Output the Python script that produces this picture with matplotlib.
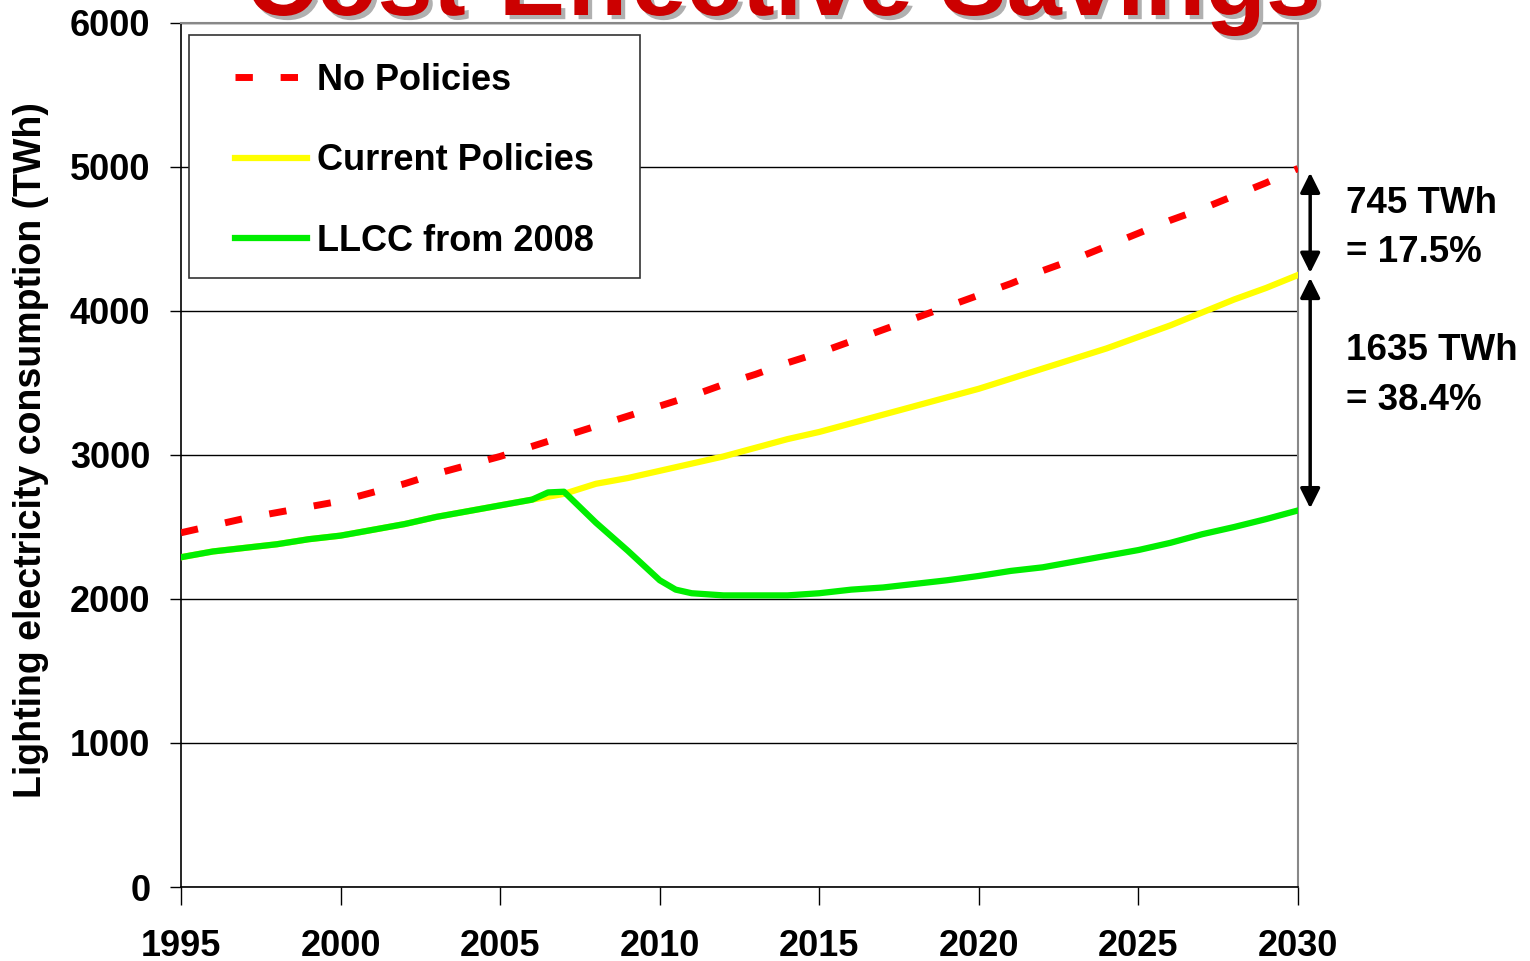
import matplotlib.pyplot as plt
import matplotlib.patheffects as pe
from matplotlib.patches import Rectangle

# Datos (TWh)
years = list(range(1995, 2031))
no_policies = [2460, 2510, 2560, 2600, 2640, 2680, 2740, 2800, 2870, 2930,
               2990, 3060, 3130, 3200, 3270, 3340, 3410, 3490, 3560, 3640,
               3710, 3790, 3870, 3950, 4030, 4110, 4190, 4280, 4360, 4450,
               4540, 4630, 4710, 4800, 4890, 4990]
current = [2290, 2330, 2355, 2380, 2415, 2440, 2480, 2520, 2570, 2610,
           2650, 2690, 2730, 2800, 2840, 2890, 2940, 2990, 3050, 3110,
           3160, 3220, 3280, 3340, 3400, 3460, 3530, 3600, 3670, 3740,
           3820, 3900, 3990, 4080, 4160, 4250]
llcc_years = [1995, 1996, 1997, 1998, 1999, 2000, 2001, 2002, 2003, 2004,
              2005, 2006, 2006.5, 2007, 2008, 2009, 2010, 2010.5, 2011, 2012,
              2013, 2014, 2015, 2016, 2017, 2018, 2019, 2020, 2021, 2022,
              2023, 2024, 2025, 2026, 2027, 2028, 2029, 2030]
llcc = [2290, 2330, 2355, 2380, 2415, 2440, 2480, 2520, 2570, 2610,
        2650, 2690, 2740, 2745, 2530, 2335, 2130, 2065, 2040, 2025,
        2025, 2025, 2040, 2065, 2080, 2105, 2130, 2160, 2195, 2220,
        2260, 2300, 2340, 2390, 2450, 2500, 2555, 2615]
labels = ['No Policies', 'Current Policies', 'LLCC from 2008']
yticks = [0, 1000, 2000, 3000, 4000, 5000, 6000]
xticks = [1995, 2000, 2005, 2010, 2015, 2020, 2025, 2030]

plt.rcParams['font.family'] = ['Liberation Sans', 'DejaVu Sans']
plt.rcParams['font.weight'] = 'bold'

fig = plt.figure(figsize=(15.3, 9.61), dpi=100)
ax = fig.add_axes([0.1183, 0.0770, 0.7301, 0.8991])

ax.plot(years, no_policies, color='#ff0000', lw=5, dashes=(2.5, 4.0),
        dash_capstyle='butt', label=labels[0], zorder=3)
ax.plot(years, current, color='#ffff00', lw=4.5, label=labels[1], zorder=3)
ax.plot(llcc_years, llcc, color='#00ee00', lw=4.5, label=labels[2], zorder=4)

ax.set_xlim(1995, 2030)
ax.set_ylim(0, 6000)
ax.set_xticks(xticks)
ax.set_yticks(yticks)
ax.tick_params(axis='x', direction='out', length=13, width=1, pad=17, labelsize=26)
ax.tick_params(axis='y', direction='out', length=8, width=1, pad=14, labelsize=26)
ax.grid(axis='y', color='black', lw=1)
ax.set_axisbelow(True)
for s in ['left', 'bottom']:
    ax.spines[s].set_color('black')
    ax.spines[s].set_linewidth(1.2)
for s in ['top', 'right']:
    ax.spines[s].set_color('#888888')
    ax.spines[s].set_linewidth(1.5)

# Caja de la leyenda
ax.add_patch(Rectangle((0.00716, 0.705), 0.404, 0.281, transform=ax.transAxes,
                       facecolor='white', edgecolor='#333333', lw=1.2, zorder=5))
leg = ax.legend(loc='upper left', bbox_to_anchor=(0.048, 0.954), frameon=False,
                fontsize=26, handlelength=2.0, handletextpad=0.28,
                labelspacing=1.26, borderpad=0, borderaxespad=0)
leg.set_zorder(6)

# Flechas de ahorro
xa = 2030.38
ax.annotate('', xy=(xa, current[-1] + 15), xytext=(xa, no_policies[-1] - 30),
            arrowprops=dict(arrowstyle='<|-|>', color='black', lw=2.5,
                            mutation_scale=30, shrinkA=0, shrinkB=0),
            annotation_clip=False)
ax.annotate('', xy=(xa, llcc[-1] + 15), xytext=(xa, current[-1] - 20),
            arrowprops=dict(arrowstyle='<|-|>', color='black', lw=2.5,
                            mutation_scale=30, shrinkA=0, shrinkB=0),
            annotation_clip=False)
ax.text(2031.5, 4744, '745 TWh', fontsize=26.5, va='center', ha='left')
ax.text(2031.5, 4404, '= 17.5%', fontsize=26.5, va='center', ha='left')
ax.text(2031.5, 3723, '1635 TWh', fontsize=26.5, va='center', ha='left')
ax.text(2031.5, 3376, '= 38.4%', fontsize=26.5, va='center', ha='left')

fig.text(31 / 1530, 1 - 450 / 961, 'Lighting electricity consumption (TWh)',
         rotation=90, fontsize=27, ha='center', va='center')

fig.text(783 / 1530, 1 - 15 / 961, 'Cost-Effective Savings', fontsize=71.5,
         color='#cc0000', ha='center', va='baseline',
         path_effects=[pe.withSimplePatchShadow(offset=(3, -3), shadow_rgbFace='#b0b0b0', alpha=1)])

fig.savefig('out.png', dpi=100)
